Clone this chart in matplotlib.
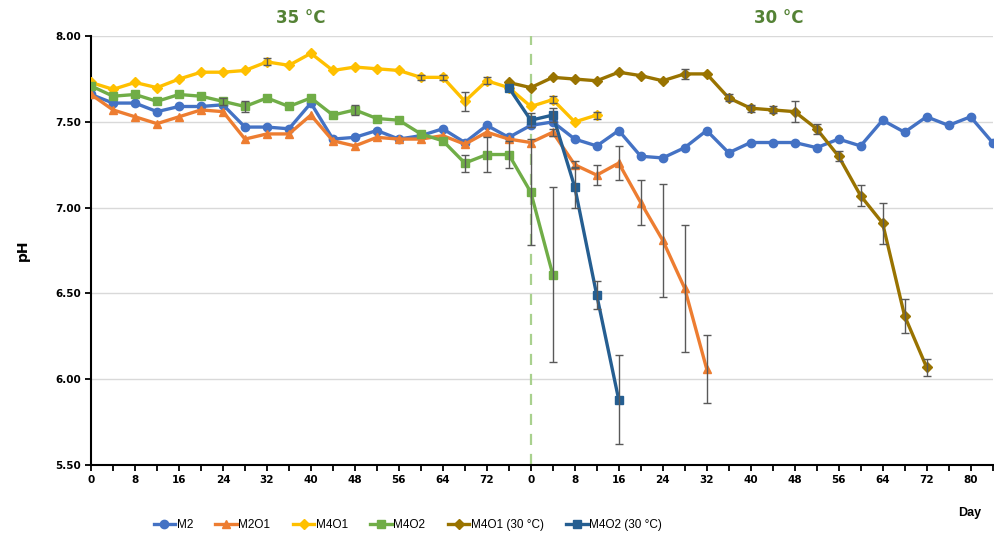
import numpy as np
import matplotlib.pyplot as plt
from matplotlib.ticker import MultipleLocator

# days are laid out on one continuous axis: 35 °C phase 0-76, 30 °C phase shifted by 80
shift = 80
days_35 = list(range(0, 80, 4))
days_30 = list(range(0, 88, 4))

m2 = [7.66, 7.61, 7.61, 7.56, 7.59, 7.59, 7.60, 7.47, 7.47, 7.46,
      7.61, 7.40, 7.41, 7.45, 7.40, 7.42, 7.46, 7.38, 7.48, 7.41,
      7.48, 7.50, 7.40, 7.36, 7.45, 7.30, 7.29, 7.35, 7.45, 7.32,
      7.38, 7.38, 7.38, 7.35, 7.40, 7.36, 7.51, 7.44, 7.53, 7.48,
      7.53, 7.38]
m2o1 = [7.66, 7.57, 7.53, 7.49, 7.53, 7.57, 7.56, 7.40, 7.43, 7.43,
        7.54, 7.39, 7.36, 7.41, 7.40, 7.40, 7.42, 7.37, 7.44, 7.40,
        7.38, 7.44, 7.25, 7.19, 7.26, 7.03, 6.81, 6.53, 6.06]
m2o1_err = [0] * 20 + [0, 0.02, 0.02, 0.06, 0.10, 0.13, 0.33, 0.37, 0.20]
m4o1 = [7.73, 7.69, 7.73, 7.70, 7.75, 7.79, 7.79, 7.80, 7.85, 7.83,
        7.90, 7.80, 7.82, 7.81, 7.80, 7.76, 7.76, 7.62, 7.74, 7.70,
        7.59, 7.63, 7.50, 7.54]
m4o1_err = [0] * 8 + [0.02, 0, 0, 0, 0, 0, 0, 0.015, 0.015, 0.055, 0.02, 0, 0, 0.02, 0, 0.02]
m4o2 = [7.71, 7.65, 7.66, 7.62, 7.66, 7.65, 7.62, 7.59, 7.64, 7.59,
        7.64, 7.54, 7.57, 7.52, 7.51, 7.43, 7.39, 7.26, 7.31, 7.31,
        7.09, 6.61]
m4o2_err = [0] * 6 + [0.02, 0.03, 0, 0, 0, 0, 0.03, 0, 0, 0, 0,
                      0.05, 0.10, 0.08, 0.31, 0.51]
# 30 °C runs start on the last 35 °C sampling day (76)
m4o1_30 = [7.73, 7.70, 7.76, 7.75, 7.74, 7.79, 7.77, 7.74, 7.78, 7.78,
           7.64, 7.58, 7.57, 7.56, 7.46, 7.30, 7.07, 6.91, 6.37, 6.07]
m4o1_30_err = [0, 0, 0, 0, 0, 0, 0, 0, 0.03, 0,
               0.02, 0.02, 0.02, 0.06, 0.03, 0.03, 0.06, 0.12, 0.10, 0.05]
m4o2_30 = [7.70, 7.51, 7.54, 7.12, 6.49, 5.88]
m4o2_30_err = [0, 0.04, 0.04, 0.12, 0.08, 0.26]

t_all = np.array(days_35 + [d + shift for d in days_30])

series = [
    ("M2", m2, None, "#4472C4", "o", 0),
    ("M2O1", m2o1, m2o1_err, "#ED7D31", "^", 0),
    ("M4O1", m4o1, m4o1_err, "#FFC000", "D", 0),
    ("M4O2", m4o2, m4o2_err, "#70AD47", "s", 0),
    ("M4O1 (30 °C)", m4o1_30, m4o1_30_err, "#997300", "D", 19),
    ("M4O2 (30 °C)", m4o2_30, m4o2_30_err, "#255E91", "s", 19),
]

fig = plt.figure(figsize=(9.95, 5.4), dpi=100)
ax = fig.add_axes([0.0915, 0.139, 0.906, 0.794])

for name, vals, err, color, mk, start in series:
    x = t_all[start:start + len(vals)]
    ms = 5 if mk == "D" else 6
    ax.plot(x, vals, color=color, lw=2.4, marker=mk, ms=ms, label=name, zorder=3)
    if err is not None:
        e = np.array(err)
        keep = e > 0
        ax.errorbar(x[keep], np.array(vals)[keep], yerr=e[keep], fmt="none",
                    ecolor="#595959", elinewidth=1, capsize=3, capthick=1, zorder=4)

ax.axvline(shift, color="#A9D18E", lw=1.6, dashes=(5, 4), zorder=2)

yt = np.arange(5.5, 8.01, 0.5)
ax.set_yticks(yt)
ax.set_yticklabels(["%.2f" % v for v in yt], fontsize=7.5, fontweight="bold")
xt = list(range(0, 80, 8)) + list(range(80, 164, 8))
ax.set_xticks(xt)
ax.set_xticklabels([str(v) for v in range(0, 80, 8)] + [str(v) for v in range(0, 84, 8)],
                   fontsize=7.5, fontweight="bold")
ax.xaxis.set_minor_locator(MultipleLocator(4))
ax.set_xlim(0, 164)
ax.set_ylim(5.5, 8.0)
ax.tick_params(axis="both", direction="out", length=4, width=1.3, color="black")
ax.tick_params(axis="x", which="minor", direction="out", length=4, width=1.3)
ax.grid(axis="y", color="#D9D9D9", lw=1)
ax.set_axisbelow(True)
for s in ["top", "right"]:
    ax.spines[s].set_visible(False)
for s in ["left", "bottom"]:
    ax.spines[s].set_linewidth(1.5)

ax.set_ylabel("pH", fontsize=10, fontweight="bold", labelpad=18)
fig.text(0.975, 0.05, "Day", fontsize=9, fontweight="bold", ha="center", va="center",
         family=["Liberation Sans Narrow", "Liberation Sans", "DejaVu Sans"])

fig.text(0.302, 0.967, "35 °C", fontsize=12, fontweight="bold", color="#548235",
         ha="center", va="center")
fig.text(0.783, 0.967, "30 °C", fontsize=12, fontweight="bold", color="#548235",
         ha="center", va="center")

fig.legend(loc="center", bbox_to_anchor=(0.41, 0.028), ncol=6, frameon=False,
           handlelength=1.8, columnspacing=1.9, handletextpad=0.15,
           prop={"family": ["Liberation Sans Narrow", "Liberation Sans", "DejaVu Sans"],
                 "size": 8.5})

fig.savefig("out.png", dpi=100)
